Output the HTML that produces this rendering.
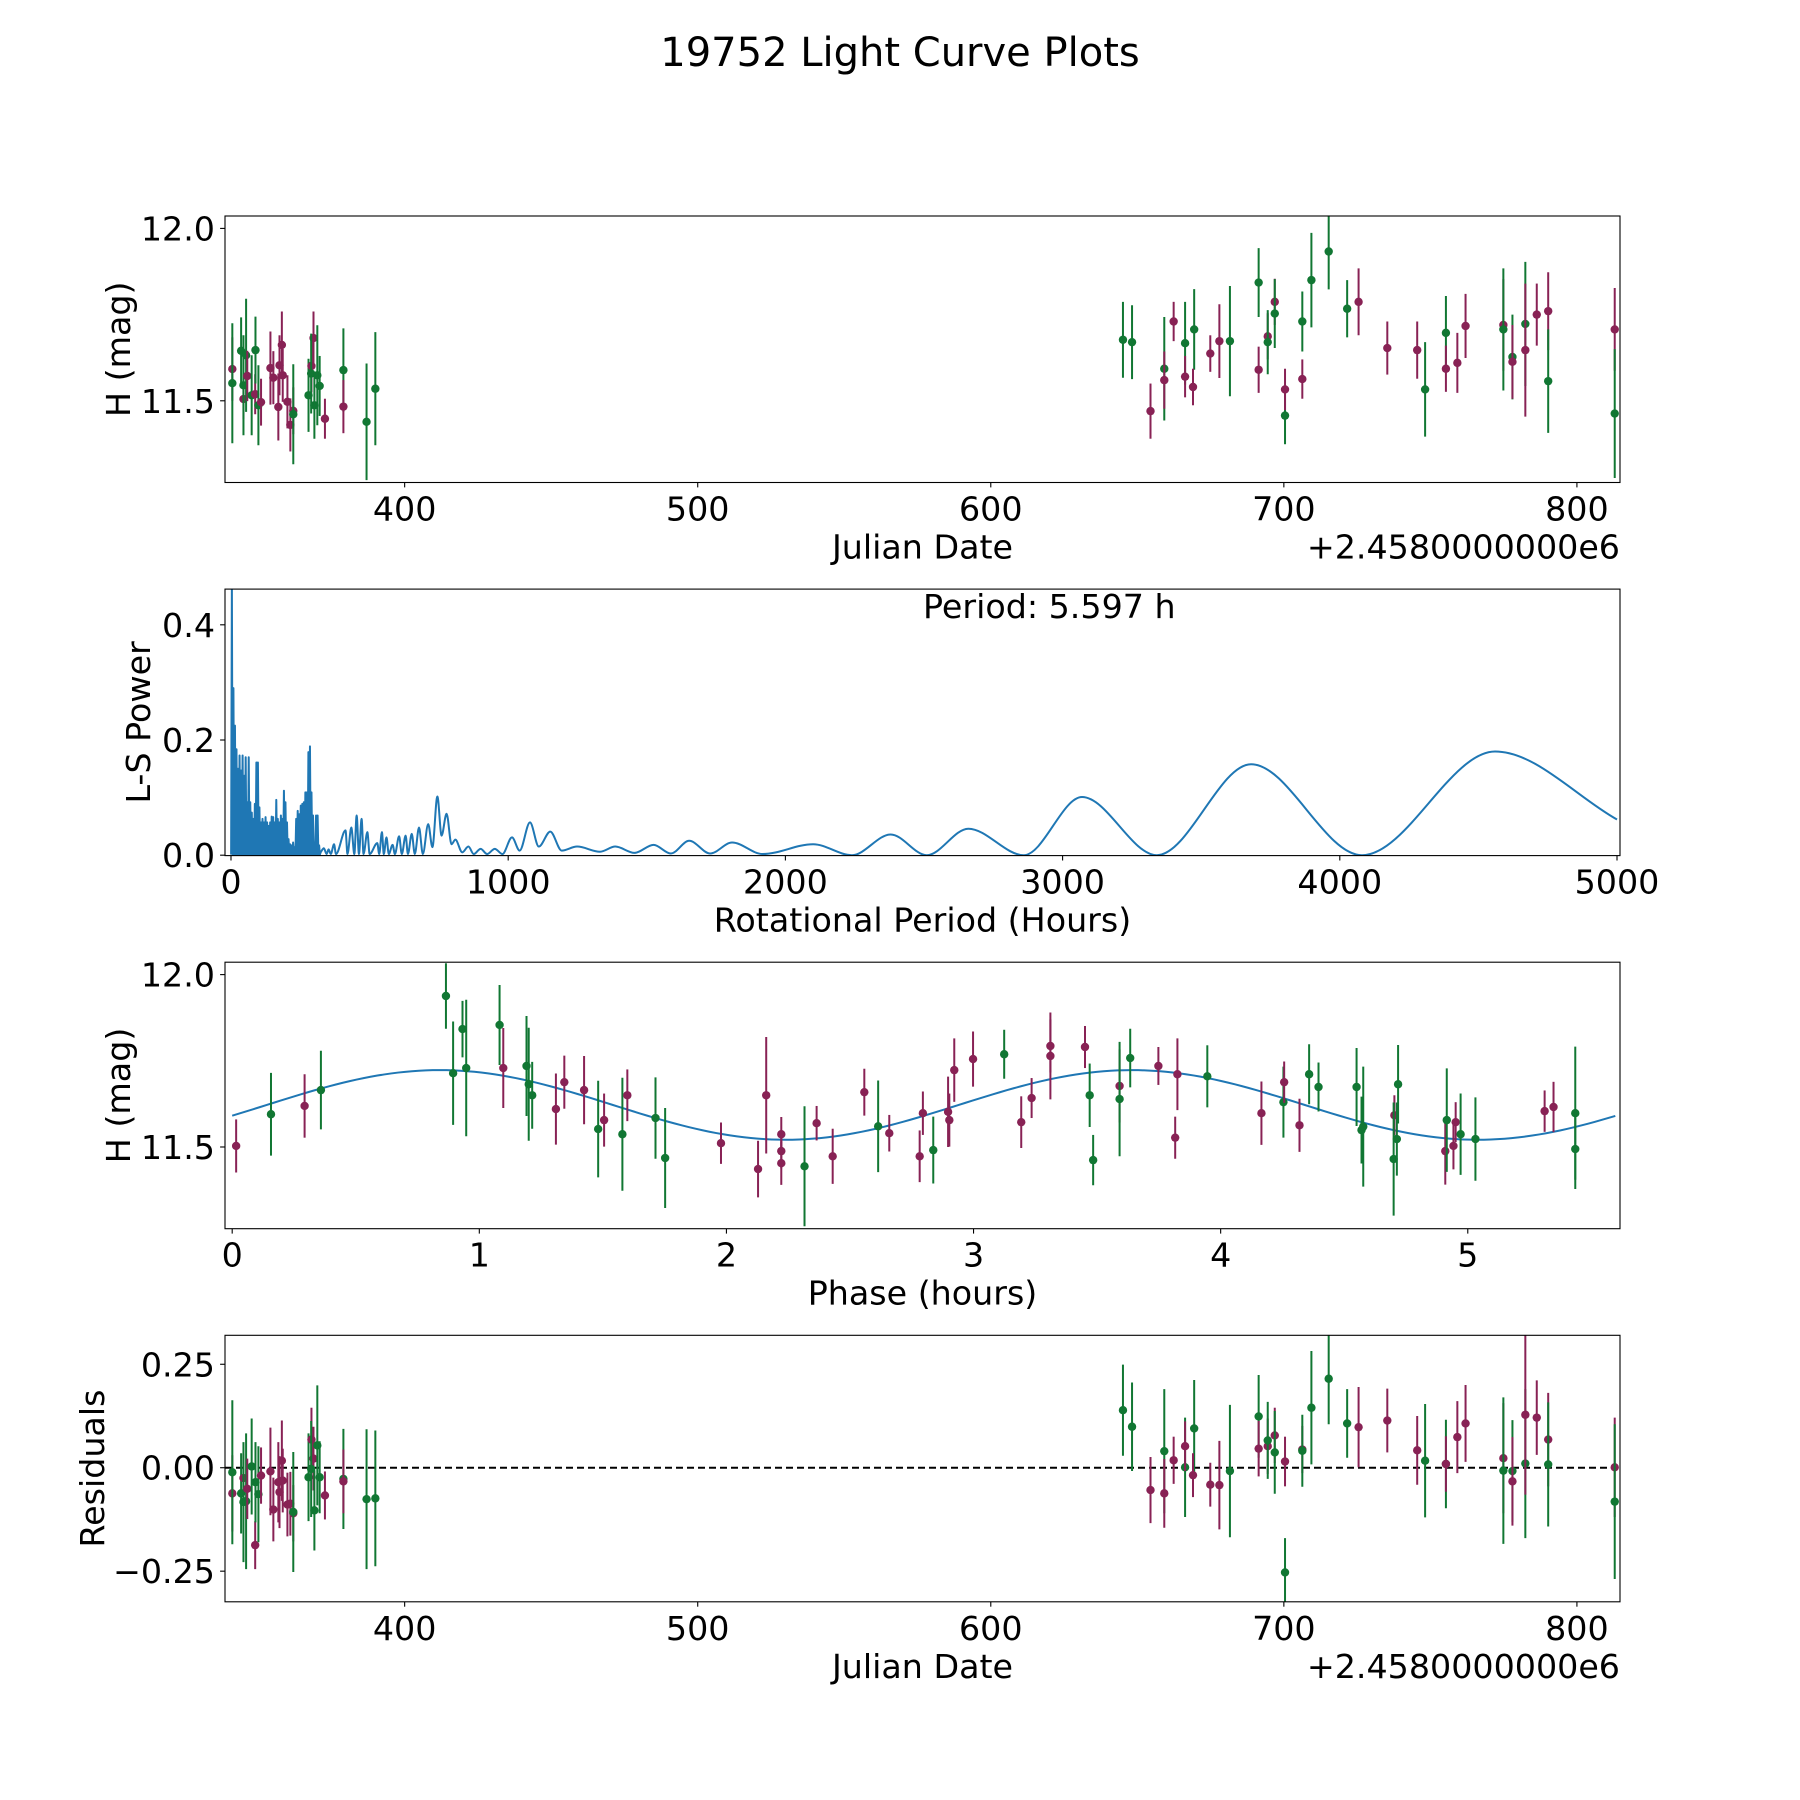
<!DOCTYPE html>
<html><head><meta charset="utf-8"><title>19752 Light Curve Plots</title>
<style>
html,body{margin:0;padding:0;background:#fff;}
svg{display:block;font-family:"DejaVu Sans","Liberation Sans",sans-serif;}
</style></head>
<body>
<svg id="fig" width="1800" height="1800" viewBox="0 0 1800 1800" xmlns="http://www.w3.org/2000/svg">
<rect width="1800" height="1800" fill="#fff"/>
<text x="900" y="66" font-size="40" text-anchor="middle">19752 Light Curve Plots</text>
</svg>
<script>
// ---- Panel 1 / residuals data (Julian date offset from 2458000) ----
const jd = [341.2,341.2,344.2,345.0,345.0,345.9,346.3,347.8,349.0,349.1,350.1,351.0,354.2,355.2,356.9,357.3,358.1,358.4,360.0,361.0,362.0,362.0,367.2,368.2,368.9,368.1,369.2,370.2,371.0,372.8,379.1,379.1,387.0,390.0,
645.1,648.2,654.5,659.2,659.2,662.4,666.3,666.3,669.4,669.0,674.9,678.0,681.6,691.4,691.4,694.5,694.5,696.9,696.9,700.4,700.4,706.3,706.3,709.4,715.3,721.6,725.5,735.3,745.5,748.2,755.3,755.3,759.2,762.0,774.9,774.9,778.0,778.0,782.4,782.4,786.3,790.2,790.2,812.9,812.9];
const mag = [11.592,11.551,11.645,11.505,11.545,11.632,11.572,11.516,11.519,11.647,11.487,11.496,11.595,11.567,11.482,11.603,11.662,11.574,11.497,11.430,11.471,11.461,11.516,11.601,11.682,11.579,11.487,11.574,11.543,11.448,11.589,11.483,11.439,11.535,
11.677,11.670,11.470,11.593,11.560,11.730,11.667,11.570,11.707,11.540,11.637,11.673,11.673,11.843,11.590,11.687,11.670,11.787,11.753,11.457,11.533,11.563,11.730,11.850,11.933,11.767,11.787,11.653,11.647,11.533,11.697,11.593,11.610,11.717,11.720,11.707,11.627,11.613,11.723,11.647,11.750,11.760,11.557,11.707,11.463];
const magErr = [0.092,0.174,0.097,0.058,0.145,0.164,0.073,0.116,0.058,0.097,0.116,0.068,0.106,0.077,0.097,0.087,0.097,0.077,0.077,0.077,0.068,0.145,0.106,0.077,0.077,0.116,0.097,0.145,0.087,0.058,0.121,0.077,0.169,0.164,
0.110,0.107,0.080,0.150,0.083,0.057,0.120,0.060,0.117,0.053,0.053,0.107,0.160,0.100,0.067,0.067,0.093,0.067,0.100,0.083,0.060,0.057,0.087,0.137,0.110,0.083,0.097,0.077,0.083,0.137,0.107,0.067,0.087,0.093,0.133,0.177,0.123,0.107,0.180,0.193,0.090,0.113,0.150,0.120,0.187];
const band = ["m","g","g","m","g","g","m","g","m","g","g","m","m","m","m","m","m","m","m","m","m","g","g","m","m","g","g","g","g","m","g","m","g","g",
"g","g","m","g","m","m","g","m","g","m","m","m","g","g","m","m","g","m","g","g","m","m","g","g","g","g","m","m","m","g","g","m","m","m","m","g","g","m","g","m","m","m","g","m","g"];
const resid = [-0.062,-0.011,-0.062,-0.025,-0.083,-0.081,-0.051,0.003,-0.187,-0.035,-0.064,-0.019,-0.009,-0.101,-0.035,-0.059,0.017,-0.031,-0.089,-0.087,-0.110,-0.107,-0.023,0.068,0.022,-0.003,-0.103,0.054,-0.023,-0.067,-0.027,-0.033,-0.076,-0.074,
0.139,0.099,-0.054,0.040,-0.062,0.018,0.001,0.052,0.095,-0.018,-0.041,-0.042,-0.008,0.124,0.046,0.052,0.066,0.078,0.037,-0.253,0.015,0.044,0.041,0.145,0.215,0.107,0.098,0.114,0.042,0.017,0.009,0.009,0.074,0.107,0.023,-0.007,-0.008,-0.033,0.010,0.128,0.121,0.068,0.008,0.001,-0.082];

// ---- Phase-folded data ----
const phase = [0.016,0.157,0.293,0.359,0.865,0.894,0.932,0.947,1.082,1.097,1.191,1.200,1.214,1.310,1.344,1.424,1.481,1.505,1.579,1.599,1.713,1.752,1.978,2.128,2.161,2.222,2.222,2.222,2.316,2.365,2.430,2.558,2.614,2.659,2.782,2.795,
2.837,2.897,2.902,2.922,2.998,3.124,3.193,3.235,3.311,3.311,3.451,3.470,3.484,3.591,3.591,3.634,3.748,3.825,3.816,3.946,4.165,4.254,4.257,4.319,4.358,4.396,4.550,4.570,4.577,4.703,4.700,4.713,4.718,4.909,4.915,4.942,4.951,4.971,5.031,5.311,5.347,5.435,5.435];
const phaseMag = [11.503,11.595,11.619,11.665,11.938,11.714,11.842,11.729,11.854,11.729,11.735,11.682,11.650,11.610,11.688,11.665,11.552,11.578,11.537,11.650,11.584,11.468,11.511,11.436,11.650,11.537,11.488,11.453,11.444,11.569,11.473,11.659,11.560,11.540,11.473,11.598,
11.491,11.602,11.578,11.723,11.755,11.769,11.572,11.642,11.793,11.764,11.790,11.650,11.462,11.677,11.639,11.758,11.735,11.711,11.527,11.705,11.598,11.630,11.688,11.563,11.711,11.674,11.674,11.549,11.559,11.592,11.465,11.523,11.682,11.488,11.578,11.503,11.572,11.537,11.523,11.604,11.616,11.598,11.494];
const phaseErr = [0.077,0.120,0.092,0.114,0.095,0.150,0.082,0.198,0.116,0.116,0.145,0.164,0.097,0.103,0.077,0.099,0.140,0.077,0.164,0.075,0.118,0.145,0.060,0.082,0.169,0.050,0.050,0.063,0.174,0.050,0.080,0.068,0.133,0.053,0.075,0.063,
0.097,0.102,0.077,0.092,0.080,0.071,0.075,0.058,0.077,0.126,0.061,0.092,0.073,0.106,0.166,0.085,0.055,0.104,0.061,0.090,0.092,0.103,0.060,0.077,0.087,0.071,0.113,0.097,0.174,0.058,0.164,0.106,0.114,0.097,0.150,0.068,0.058,0.118,0.121,0.060,0.073,0.193,0.116];
const phaseBand = ["m","g","m","g","g","g","g","g","g","m","g","g","g","m","m","m","g","m","g","m","g","g","m","m","m","m","m","m","g","m","m","m","g","m","m","m",
"g","m","m","m","m","g","m","m","m","m","m","g","g","m","g","g","m","m","m","g","m","g","m","m","g","g","g","g","g","m","g","g","g","m","g","m","m","g","g","m","m","g","g"];
// fitted model parameters (mean, amplitude, peak phase, harmonic period in hours, rotation period)
const fitMean = 11.622, fitAmp = 0.101, fitPeak = 0.84, fitHalfPeriod = 2.80, rotPeriod = 5.597;

// ---- Periodogram data ----
const noisePeriod = [3.2,8.8,14.3,19.8,25.3,30.9,36.4,41.9,47.4,53.0,58.5,64.0,69.5,75.0,80.6,86.1,91.6,97.1,102.6,108.2,113.7,119.2,124.7,130.3,135.8,141.3,146.8,152.3,157.9,163.4,168.9,174.4,180.0,185.5,191.0,196.5,202.0,207.6,213.1,218.6,224.1,229.7,235.2,240.7,246.2,251.7,257.3,262.8,268.3,273.8,279.3,284.9,290.4,295.9,301.4,306.9,312.5,318.0];
const noisePower = [0.47,0.29,0.225,0.184,0.15,0.173,0.147,0.173,0.138,0.17,0.092,0.17,0.092,0.074,0.063,0.089,0.161,0.161,0.083,0.057,0.063,0.057,0.066,0.057,0.051,0.057,0.067,0.066,0.057,0.096,0.063,0.057,0.069,0.063,0.112,0.092,0.057,0.028,0.019,0.017,0.022,0.014,0.063,0.077,0.071,0.086,0.089,0.092,0.109,0.109,0.179,0.189,0.109,0.069,0.022,0.069,0.069,0.017];
const smoothPeriod = [323.5,335,345,352,360,371.8,378.7,413.2,420.2,434.0,445.0,453.3,461.6,471.2,478.1,491.9,500.2,527.8,534.7,544.4,551.3,560.9,569.2,583.0,591.3,606.5,616.2,630.0,638.3,652.1,663.1,678.3,692.1,711.4,726.6,744.5,759.7,777.7,795.6,809.4,834.3,856.4,875.7,900.5,924.0,951.6,979.2,1013.7,1041.3,1078.6,1110.4,1151.8,1193.2,1248.4,1331.3,1386.4,1455.5,1524.5,1586.6,1652.9,1728.8,1807.5,1917.9,2100,2240,2380,2510,2660,2860,3070,3340,3680,4080,4560,5000];
const smoothPower = [0.005,0.012,0.002,0.010,0.002,0.019,0.002,0.043,0.002,0.048,0.002,0.069,0.002,0.063,0.002,0.040,0.002,0.021,0.002,0.040,0.002,0.031,0.002,0.018,0.002,0.033,0.002,0.034,0.002,0.037,0.002,0.048,0.002,0.054,0.014,0.102,0.034,0.072,0.019,0.027,0.005,0.015,0.002,0.011,0.002,0.011,0.002,0.031,0.008,0.057,0.015,0.041,0.008,0.015,0.006,0.015,0.004,0.018,0.003,0.025,0.003,0.022,0.002,0.019,0.0,0.036,0.0,0.046,0.0,0.101,0.0,0.158,0.0,0.180,0.062];

// ---- tick labels ----
const jdTicks = [400,500,600,700,800];
const magTicks = [12.0,11.5];
const magTickLabels = ["12.0","11.5"];
const perTicks = [0,1000,2000,3000,4000,5000];
const powTicks = [0.0,0.2,0.4];
const powTickLabels = ["0.0","0.2","0.4"];
const phaseTicks = [0,1,2,3,4,5];
const resTicks = [0.25,0,-0.25];
const resTickLabels = ["0.25","0.00","\u22120.25"];

const NS = "http://www.w3.org/2000/svg";
const svg = document.getElementById("fig");
const COL = {m:"#882255", g:"#117733"};
const AX_L = 225, AX_W = 1395, AX_H = 266.5;
const TOPS = [216, 589.1, 962.2, 1335.3];
const FS = 33.3;

function mk(tag, attrs, parent){
  const e = document.createElementNS(NS, tag);
  for (const k in attrs) e.setAttribute(k, attrs[k]);
  (parent||svg).appendChild(e);
  return e;
}
function scale(d0,d1,r0,r1){ return v => r0 + (v-d0)/(d1-d0)*(r1-r0); }

function makeAxes(idx, name, xlim, ylim){
  const top = TOPS[idx];
  const g = mk("g", {});
  
  
  const cp = mk("clipPath", {id:"clip"+idx}, g);
  mk("rect", {x:AX_L, y:top, width:AX_W, height:AX_H}, cp);
  const plot = mk("g", {"clip-path":"url(#clip"+idx+")"}, g);
  
  
  return {g, plot, top,
    x: scale(xlim[0],xlim[1],AX_L,AX_L+AX_W),
    y: scale(ylim[0],ylim[1],top+AX_H,top)};
}
function frame(ax, name){
  const r = mk("rect", {x:AX_L, y:ax.top, width:AX_W, height:AX_H, fill:"none", stroke:"#000", "stroke-width":1.1}, ax.g);
  
  
}
function xticks(ax, vals, labels, name){
  vals.forEach((v,i)=>{
    const px = ax.x(v), by = ax.top+AX_H;
    const t = mk("line", {x1:px, x2:px, y1:by, y2:by+4.9, stroke:"#000", "stroke-width":1.1}, ax.g);
    
    
    const tx = mk("text", {x:px, y:by+38, "font-size":FS, "text-anchor":"middle"}, ax.g);
    tx.textContent = labels[i];
    
    
  });
}
function yticks(ax, vals, labels, name){
  vals.forEach((v,i)=>{
    const py = ax.y(v);
    const t = mk("line", {x1:AX_L-4.9, x2:AX_L, y1:py, y2:py, stroke:"#000", "stroke-width":1.1}, ax.g);
    
    
    const tx = mk("text", {x:AX_L-10, y:py+12, "font-size":FS, "text-anchor":"end"}, ax.g);
    tx.textContent = labels[i];
    
    
  });
}
function label(ax, txt, xlab, ylabX, name){
  const t = mk("text", {x:AX_L+AX_W/2, y:ax.top+AX_H+76, "font-size":FS, "text-anchor":"middle"}, ax.g);
  t.textContent = xlab;
  
  
  const cy = ax.top+AX_H/2;
  const y = mk("text", {x:ylabX, y:cy, "font-size":FS, "text-anchor":"middle", transform:"rotate(-90 "+ylabX+" "+cy+")"}, ax.g);
  y.textContent = txt;
  
  
}
function offsetText(ax, name){
  const t = mk("text", {x:AX_L+AX_W, y:ax.top+AX_H+76, "font-size":FS, "text-anchor":"end"}, ax.g);
  t.textContent = "+2.4580000000e6";
  
  
}
function errPoints(ax, xs, ys, es, cs, name){
  for (let i=0;i<xs.length;i++){
    const px = ax.x(xs[i]), c = COL[cs[i]];
    const l = mk("line", {x1:px, x2:px, y1:ax.y(ys[i]-es[i]), y2:ax.y(ys[i]+es[i]), stroke:c, "stroke-width":2}, ax.plot);
    
    
    const d = mk("circle", {cx:px, cy:ax.y(ys[i]), r:4.2, fill:c}, ax.plot);
    
    
  }
}

// Panel 1
const a1 = makeAxes(0, "light-curve-axes", [338.7,814.7], [11.263,12.036]);
errPoints(a1, jd, mag, magErr, band, "light-curve");
frame(a1, "light-curve");
xticks(a1, jdTicks, jdTicks.map(String), "light-curve");
yticks(a1, magTicks, magTickLabels, "light-curve");
label(a1, "H (mag)", "Julian Date", 130, "light-curve");
offsetText(a1, "light-curve");

// Panel 2: periodogram
const a2 = makeAxes(1, "periodogram-axes", [-21.6,5010.8], [-0.0007,0.462]);
{
  let d = "";
  noisePeriod.forEach((p,i)=>{
    d += (i?"L":"M")+a2.x(p-2.7)+","+a2.y(0.001)+"L"+a2.x(p)+","+a2.y(noisePower[i])+"L"+a2.x(p+2.7)+","+a2.y(0.001);
  });
  const xs = smoothPeriod.map(a2.x), ys = smoothPower.map(a2.y);
  const n = xs.length, m = new Array(n).fill(0);
  const dl = [];
  for (let i=0;i<n-1;i++) dl.push((ys[i+1]-ys[i])/(xs[i+1]-xs[i]));
  for (let i=1;i<n-1;i++) m[i] = (dl[i-1]*dl[i] <= 0) ? 0 : (dl[i-1]+dl[i])/2;
  m[0]=dl[0]; m[n-1]=dl[n-2];
  d += "L"+xs[0]+","+ys[0];
  for (let i=0;i<n-1;i++){
    const h = (xs[i+1]-xs[i])/3;
    d += "C"+(xs[i]+h)+","+(ys[i]+m[i]*h)+" "+(xs[i+1]-h)+","+(ys[i+1]-m[i+1]*h)+" "+xs[i+1]+","+ys[i+1];
  }
  const p = mk("path", {d:d, fill:"none", stroke:"#1f77b4", "stroke-width":2, "stroke-linejoin":"round"}, a2.plot);
  
  
}
frame(a2, "periodogram");
xticks(a2, perTicks, perTicks.map(String), "periodogram");
yticks(a2, powTicks, powTickLabels, "periodogram");
label(a2, "L-S Power", "Rotational Period (Hours)", 150, "periodogram");
{
  const t = mk("text", {x:923, y:618, "font-size":FS}, a2.g);
  t.textContent = "Period: " + rotPeriod.toFixed(3) + " h";
  
  
}

// Panel 3: phase-folded
const a3 = makeAxes(2, "phase-axes", [-0.0291,5.616], [11.263,12.036]);
{
  let d = "";
  const N = 200;
  for (let i=0;i<=N;i++){
    const p = rotPeriod*i/N;
    const v = fitMean + fitAmp*Math.cos(2*Math.PI*(p-fitPeak)/fitHalfPeriod);
    d += (i?"L":"M")+a3.x(p)+","+a3.y(v);
  }
  const c = mk("path", {d:d, fill:"none", stroke:"#1f77b4", "stroke-width":2}, a3.plot);
  
  
}
errPoints(a3, phase, phaseMag, phaseErr, phaseBand, "phase");
frame(a3, "phase");
xticks(a3, phaseTicks, phaseTicks.map(String), "phase");
yticks(a3, magTicks, magTickLabels, "phase");
label(a3, "H (mag)", "Phase (hours)", 130, "phase");

// Panel 4: residuals
const a4 = makeAxes(3, "residuals-axes", [338.7,814.7], [-0.324,0.320]);
{
  const z = mk("line", {x1:AX_L, x2:AX_L+AX_W, y1:a4.y(0), y2:a4.y(0), stroke:"#000", "stroke-width":2, "stroke-dasharray":"7,4"}, a4.plot);
  
  
}
errPoints(a4, jd, resid, magErr, band, "residual");
frame(a4, "residuals");
xticks(a4, jdTicks, jdTicks.map(String), "residuals");
yticks(a4, resTicks, resTickLabels, "residuals");
label(a4, "Residuals", "Julian Date", 104, "residuals");
offsetText(a4, "residuals");
</script>
</body></html>
